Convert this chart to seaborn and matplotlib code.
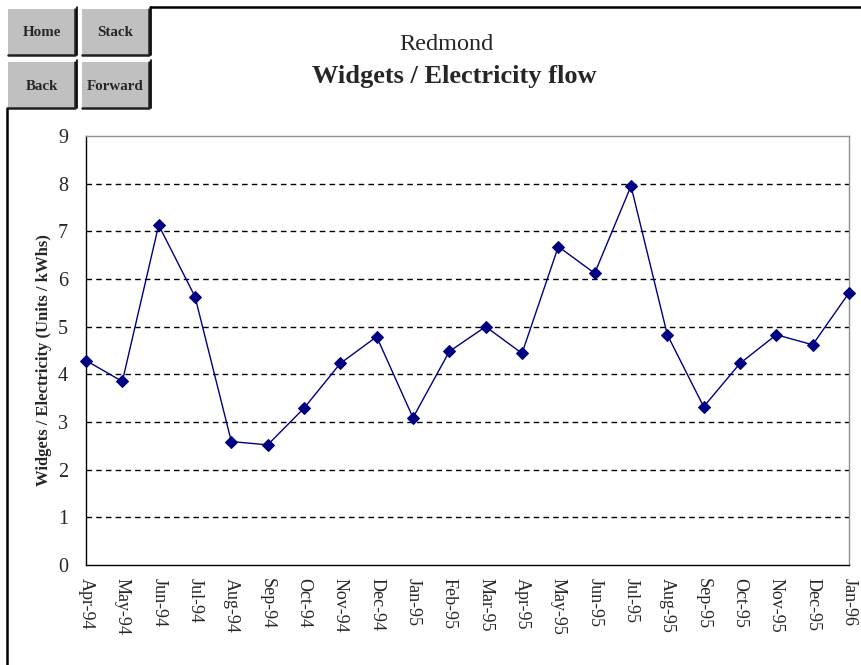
import matplotlib
matplotlib.use("Agg")
import matplotlib.pyplot as plt
from matplotlib.patches import Rectangle
from matplotlib.lines import Line2D
import seaborn as sns
import pandas as pd

months = ["Apr-94", "May-94", "Jun-94", "Jul-94", "Aug-94", "Sep-94", "Oct-94",
          "Nov-94", "Dec-94", "Jan-95", "Feb-95", "Mar-95", "Apr-95", "May-95",
          "Jun-95", "Jul-95", "Aug-95", "Sep-95", "Oct-95", "Nov-95", "Dec-95", "Jan-96"]
values = [4.29, 3.85, 7.13, 5.63, 2.59, 2.52, 3.29, 4.23, 4.79, 3.09, 4.48,
          5.00, 4.44, 6.68, 6.12, 7.95, 4.83, 3.32, 4.23, 4.83, 4.62, 5.71]
yticks = [0, 1, 2, 3, 4, 5, 6, 7, 8, 9]
title_top = "Redmond"
title_main = "Widgets / Electricity flow"
ylabel = "Widgets / Electricity (Units / kWhs)"
buttons = ["Home", "Stack", "Back", "Forward"]

sns.set_style("white")
plt.rcParams["font.family"] = ["Liberation Serif", "DejaVu Serif"]

W, H = 862, 665
fig = plt.figure(figsize=(W / 100, H / 100), dpi=100)
fig.patch.set_facecolor("white")

def fx(x):
    return x / W

def fy(y):
    return 1 - y / H

left, right, top, bottom = 86, 849, 136, 565
ax = fig.add_axes([fx(left), fy(bottom), fx(right) - fx(left), fy(top) - fy(bottom)])

df = pd.DataFrame({"month": months, "value": values})
sns.lineplot(data=df, x="month", y="value", sort=False, ax=ax, color="#000080",
             linewidth=1.0, marker="D", markersize=6, markeredgecolor="#000080",
             markerfacecolor="#000080")
for ln in ax.lines:
    ln.set_clip_on(False)
    ln.set_zorder(5)

ax.set_xlim(0, len(months) - 1)
ax.set_ylim(0, 9)
ax.set_yticks(yticks)
ax.set_yticklabels([str(t) for t in yticks], fontsize=14.5)
ax.set_xticks(range(len(months)))
ax.set_xticklabels(months, rotation=270, fontsize=13, va="top", ha="center")
ax.tick_params(axis="x", direction="out", length=5, width=1, color="black", pad=4)
ax.tick_params(axis="y", direction="out", length=5, width=1, color="black", pad=8)
ax.set_xlabel("")
ax.set_ylabel(ylabel, fontsize=12, fontweight="bold")
ax.yaxis.set_label_coords((52 - left) / (right - left), (bottom - 360) / (bottom - top))

for t in yticks[1:-1]:
    ax.axhline(t, color="black", linestyle=(0, (4, 3)), linewidth=1.0, zorder=0)

for s in ["left", "bottom"]:
    ax.spines[s].set_color("black")
    ax.spines[s].set_linewidth(1.0)
for s in ["top", "right"]:
    ax.spines[s].set_color("#909090")
    ax.spines[s].set_linewidth(1.0)

# Titles
fig.text(fx(446), fy(50), title_top, ha="center", va="baseline", fontsize=17.5)
fig.text(fx(454), fy(83), title_main, ha="center", va="baseline", fontsize=19, fontweight="bold")

# Outer frame
fig.add_artist(Line2D([fx(7), fx(7)], [fy(108), fy(665)], color="black", lw=1.8))
fig.add_artist(Line2D([fx(150), fx(862)], [fy(7), fy(7)], color="black", lw=1.8))

# Buttons
boxes = [(8, 9, 75, 55), (82, 9, 149, 55), (8, 62, 75, 108), (82, 62, 149, 108)]
for label, (x0, y0, x1, y1) in zip(buttons, boxes):
    fig.add_artist(Rectangle((fx(x0), fy(y1)), fx(x1) - fx(x0), fy(y0) - fy(y1),
                             facecolor="#c0c0c0", edgecolor="none"))
    fig.add_artist(Line2D([fx(x0), fx(x1), fx(x1)], [fy(y1), fy(y1), fy(y0)],
                          color="#202020", lw=1.8))
    fig.add_artist(Line2D([fx(x1 + 2), fx(x1 + 2)], [fy(y0 - 2), fy(y1)],
                          color="black", lw=1.2))
    fig.text(fx((x0 + x1) / 2), fy((y0 + y1) / 2 + 1), label, ha="center", va="center",
             fontsize=10.8, fontweight="bold")

fig.savefig("out.png", dpi=100)
